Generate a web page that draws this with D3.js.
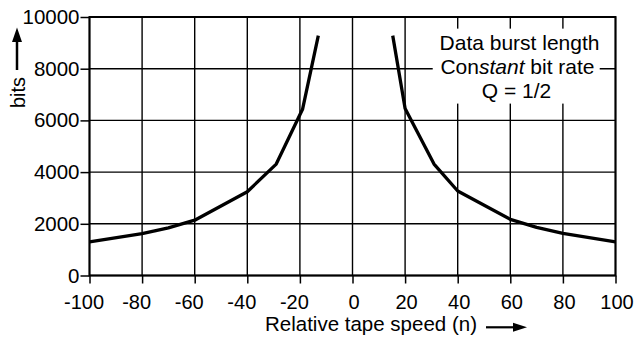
<!DOCTYPE html>
<html>
<head>
<meta charset="utf-8">
<script src="https://cdn.jsdelivr.net/npm/d3@7"></script>
<style>
  body { margin: 0; background: #fff; }
  text { font-family: "Liberation Sans", Arial, sans-serif; fill: #000; }
</style>
</head>
<body>
<div id="chart"></div>
<script>
// Data
const xTicks = [-100, -80, -60, -40, -20, 0, 20, 40, 60, 80, 100];
const yTicks = [0, 2000, 4000, 6000, 8000, 10000];

const leftSpeed = [-100, -80, -70, -60, -40, -29, -19, -13];
const leftBits = [1300, 1620, 1840, 2140, 3240, 4310, 6430, 9280];
const rightSpeed = [15.3, 20, 31, 40, 60, 70, 80, 100];
const rightBits = [9280, 6460, 4310, 3270, 2170, 1860, 1630, 1300];

const legendLines = ["Data burst length", "Constant bit rate", "Q = 1/2"];

const width = 638;
const height = 340;
const margin = ({ top: 17, right: 22.5, bottom: 64.5, left: 89.5 });

const svg = d3.select("#chart")
  .append("svg")
  .attr("width", width)
  .attr("height", height)
  .attr("viewBox", [0, 0, width, height]);

// Scales
const x = d3.scaleLinear()
  .domain([-100, 100])
  .range([margin.left, width - margin.right]);

const y = d3.scaleLinear()
  .domain([0, 10000])
  .range([height - margin.bottom, margin.top]);

// Grid
svg.append("g")
  .attr("stroke", "#000")
  .attr("stroke-width", 1.4)
  .call(g => g.selectAll("line.v")
    .data(xTicks)
    .join("line")
    .attr("class", "v")
    .attr("x1", d => x(d)).attr("x2", d => x(d))
    .attr("y1", y(0)).attr("y2", y(10000)))
  .call(g => g.selectAll("line.h")
    .data(yTicks)
    .join("line")
    .attr("class", "h")
    .attr("x1", x(-100)).attr("x2", x(100))
    .attr("y1", d => y(d)).attr("y2", d => y(d)));

// Legend box hides the grid behind the text
const lx = x(63.5);
svg.append("rect")
  .attr("x", x(30.5))
  .attr("y", y(9550))
  .attr("width", x(94) - x(30.5))
  .attr("height", y(6650) - y(9550))
  .attr("fill", "#fff");

const legend = svg.append("text")
  .attr("text-anchor", "middle")
  .attr("font-size", 21);

legend.append("tspan").attr("x", lx).attr("y", 50).text(legendLines[0]);
const l2 = legend.append("tspan").attr("x", lx - 2).attr("y", 74);
l2.append("tspan").text("Con");
l2.append("tspan").attr("font-style", "italic").text("stant");
l2.append("tspan").text(" bit rate");
legend.append("tspan").attr("x", lx - 3).attr("y", 98).text(legendLines[2]);

// Frame
svg.append("rect")
  .attr("x", x(-100))
  .attr("y", y(10000))
  .attr("width", x(100) - x(-100))
  .attr("height", y(0) - y(10000))
  .attr("fill", "none")
  .attr("stroke", "#000")
  .attr("stroke-width", 2);

// Axes
const xAxis = g => g
  .attr("transform", `translate(0,${y(0)})`)
  .call(d3.axisBottom(x).tickValues(xTicks).tickFormat(d => String(d))
    .tickSize(8).tickPadding(11).tickSizeOuter(0))
  .call(g => g.select(".domain").remove())
  .call(g => g.selectAll(".tick line").attr("stroke", "#000").attr("stroke-width", 1.5))
  .call(g => g.selectAll(".tick text")
    .attr("font-size", 20)
    .attr("font-family", "Liberation Sans, Arial, sans-serif")
    .attr("dx", d => d < 0 ? -6 : 1));

const yAxis = g => g
  .attr("transform", `translate(${x(-100)},0)`)
  .call(d3.axisLeft(y).tickValues(yTicks).tickFormat(d => String(d))
    .tickSize(9).tickPadding(1).tickSizeOuter(0))
  .call(g => g.select(".domain").remove())
  .call(g => g.selectAll(".tick line").attr("stroke", "#000").attr("stroke-width", 1.5))
  .call(g => g.selectAll(".tick text")
    .attr("font-size", 20.5)
    .attr("font-family", "Liberation Sans, Arial, sans-serif"));

svg.append("g").call(xAxis);
svg.append("g").call(yAxis);

// Axis titles with arrows
svg.append("text")
  .attr("transform", `translate(24.5,${y(7080)}) rotate(-90)`)
  .attr("text-anchor", "middle")
  .attr("font-size", 20)
  .text("bits");

svg.append("line")
  .attr("x1", 17).attr("x2", 17)
  .attr("y1", 70).attr("y2", 40)
  .attr("stroke", "#000").attr("stroke-width", 2.5);
svg.append("path")
  .attr("d", "M17,27.5 L12,42 L22,42 Z")
  .attr("fill", "#000");

svg.append("text")
  .attr("x", 265)
  .attr("y", 331)
  .attr("font-size", 20.5)
  .text("Relative tape speed (n)");

svg.append("line")
  .attr("x1", 486).attr("x2", 516)
  .attr("y1", 327.3).attr("y2", 327.3)
  .attr("stroke", "#000").attr("stroke-width", 2.2);
svg.append("path")
  .attr("d", "M527,327.3 L513,322.8 L513,331.8 Z")
  .attr("fill", "#000");

// Shapes
const line = d3.line()
  .x(d => x(d[0]))
  .y(d => y(d[1]));

const series = [
  d3.zip(leftSpeed, leftBits),
  d3.zip(rightSpeed, rightBits)
];

svg.append("g")
  .attr("fill", "none")
  .attr("stroke", "#000")
  .attr("stroke-width", 3.3)
  .attr("stroke-linejoin", "round")
  .selectAll("path")
  .data(series)
  .join("path")
  .attr("d", d => line(d));
</script>
</body>
</html>
